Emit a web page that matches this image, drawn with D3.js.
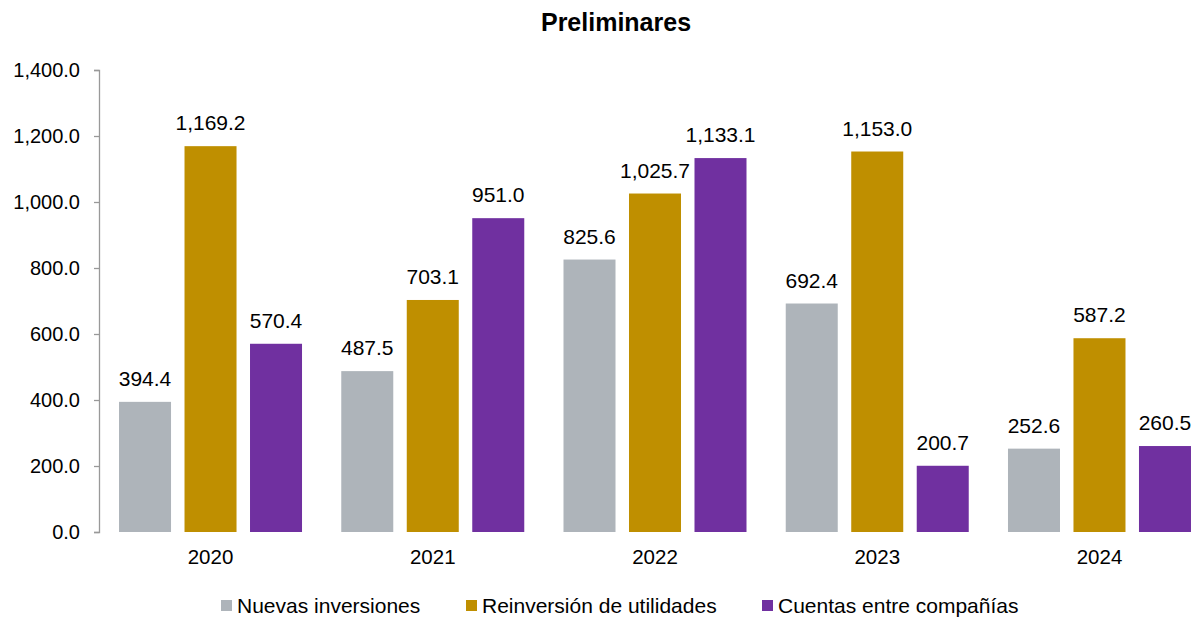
<!DOCTYPE html>
<html>
<head>
<meta charset="utf-8">
<script src="https://cdn.jsdelivr.net/npm/d3@7"></script>
<style>
  body { margin: 0; background: #fff; }
  svg text { font-family: "Liberation Sans", Arial, sans-serif; fill: #000; }
</style>
</head>
<body>
<svg id="chart" width="1201" height="618"></svg>
<script>
var years = ["2020", "2021", "2022", "2023", "2024"];
var seriesNames = ["Nuevas inversiones", "Reinversión de utilidades", "Cuentas entre compañías"];
var nuevas = [394.4, 487.5, 825.6, 692.4, 252.6];
var reinversion = [1169.2, 703.1, 1025.7, 1153.0, 587.2];
var cuentas = [570.4, 951.0, 1133.1, 200.7, 260.5];
var yTicks = [0, 200, 400, 600, 800, 1000, 1200, 1400];
var colors = ["#AEB4BA", "#BF8F00", "#7030A0"];

var series = [nuevas, reinversion, cuentas];

var svg = d3.select("#chart");
var margin = {left: 99, top: 70, bottom: 532};

var x = d3.scaleBand()
    .domain(years)
    .range([99.4, 1210.6]);

var inner = d3.scaleBand()
    .domain(d3.range(3))
    .range([x.bandwidth()/2 - 91.5, x.bandwidth()/2 + 91.5])
    .paddingInner(0.206)
    .paddingOuter(0);

var y = d3.scaleLinear()
    .domain([0, 1400])
    .range([532, 70]);

// title
svg.append("text")
  .attr("x", 616)
  .attr("y", 31)
  .attr("text-anchor", "middle")
  .style("font-weight", "bold")
  .style("font-size", "25px")
  .text("Preliminares");

// y axis
var yAxis = svg.append("g")
  .attr("transform", "translate(" + margin.left + ",0)")
  .call(d3.axisLeft(y)
    .tickValues(yTicks)
    .tickSize(5)
    .tickPadding(14)
    .tickFormat(d3.format(",.1f")));
yAxis.selectAll("path, line").attr("stroke", "#999").attr("stroke-width", 1.3);
yAxis.select(".domain").attr("d", "M-5,70.5H0.5V532.5H-5");
yAxis.selectAll("text")
  .style("font-size", "20px")
  .attr("font-family", null);

// x labels
svg.append("g").selectAll("text")
  .data(years)
  .join("text")
  .attr("x", d => x(d) + x.bandwidth()/2)
  .attr("y", 564)
  .attr("text-anchor", "middle")
  .style("font-size", "20.5px")
  .text(d => d);

// bars
var groups = svg.append("g").selectAll("g")
  .data(years)
  .join("g")
  .attr("transform", d => "translate(" + x(d) + ",0)");

series.forEach(function(vals, si) {
  groups.append("rect")
    .attr("x", inner(si))
    .attr("width", inner.bandwidth())
    .attr("y", (d, i) => y(vals[i]))
    .attr("height", (d, i) => y(0) - y(vals[i]))
    .attr("fill", colors[si]);

  groups.append("text")
    .attr("x", inner(si) + inner.bandwidth()/2)
    .attr("y", (d, i) => y(vals[i]) - 16)
    .attr("text-anchor", "middle")
    .style("font-size", "21px")
    .text((d, i) => d3.format(",.1f")(vals[i]));
});

// legend
var legendX = [221, 466, 762];
var legend = svg.append("g").selectAll("g")
  .data(seriesNames)
  .join("g")
  .attr("transform", (d, i) => "translate(" + legendX[i] + ",600)");
legend.append("rect")
  .attr("width", 11)
  .attr("height", 11)
  .attr("fill", (d, i) => colors[i]);
legend.append("text")
  .attr("x", 16)
  .attr("y", 12.5)
  .style("font-size", "21px")
  .text(d => d);
</script>
</body>
</html>
